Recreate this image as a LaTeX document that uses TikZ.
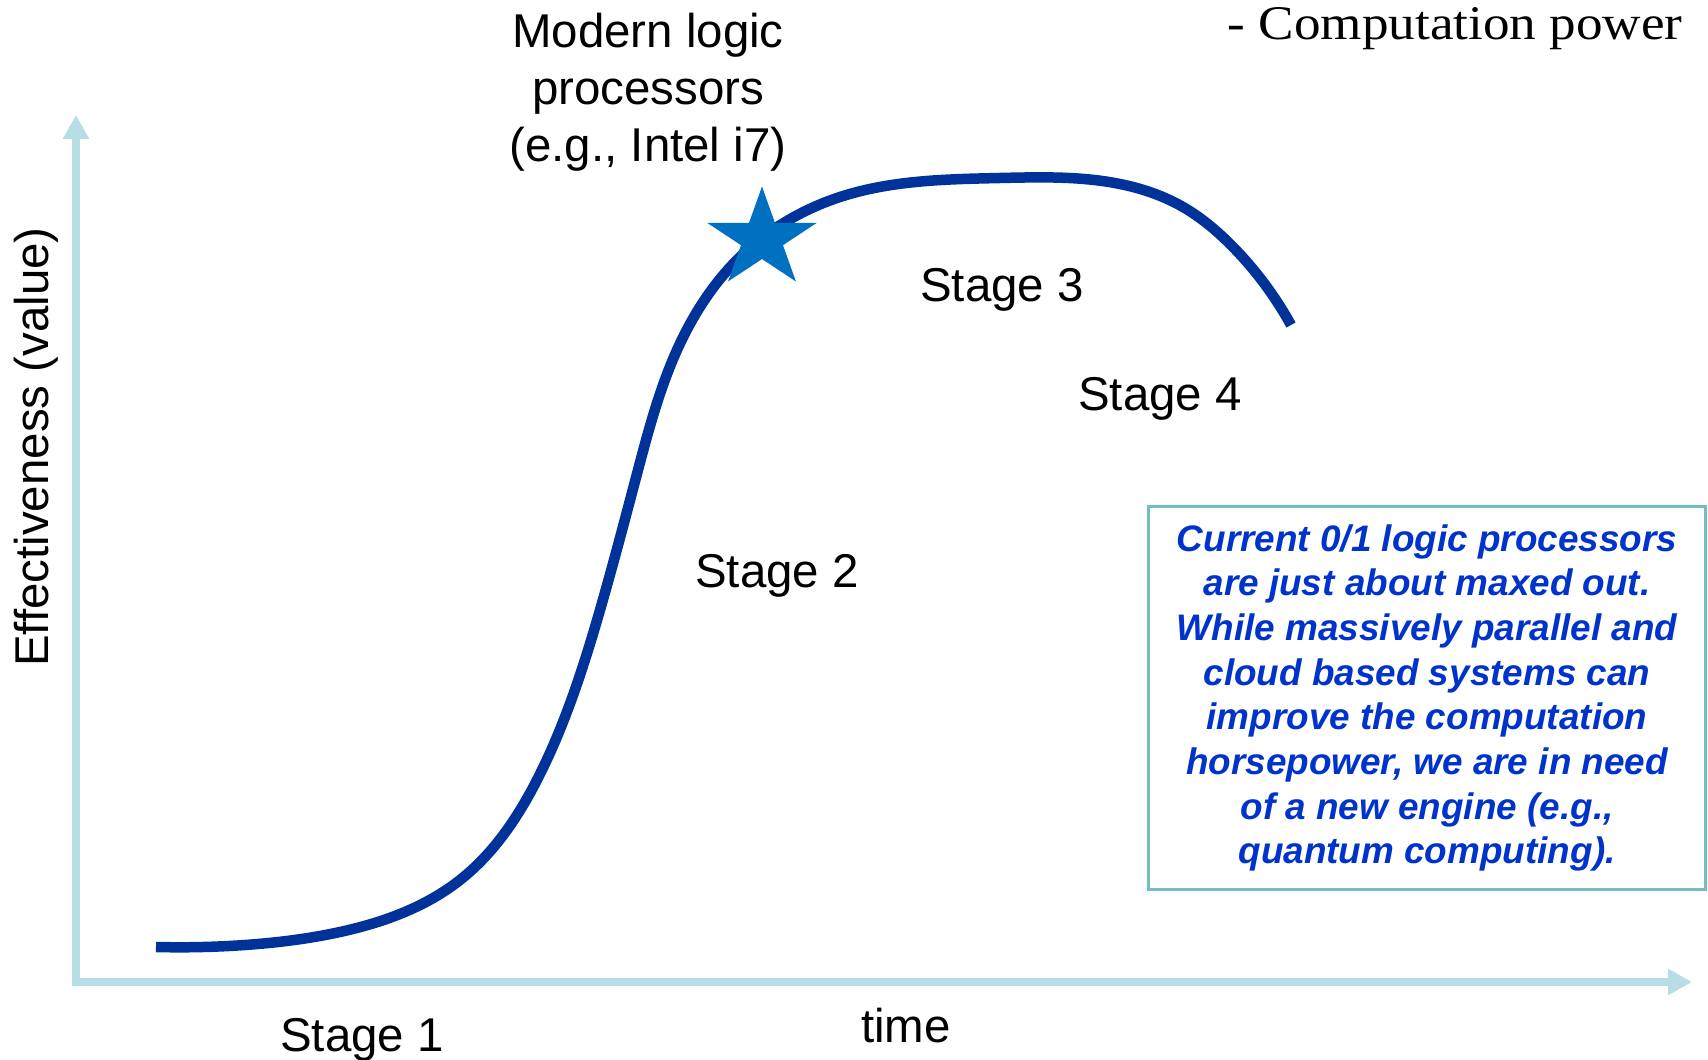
\documentclass[tikz,border=0pt]{standalone}
\usepackage{fontspec}
\setmainfont{Liberation Sans}
\newfontfamily\powerfont{Liberation Serif}
\usetikzlibrary{positioning}
\usetikzlibrary{arrows.meta}
\usetikzlibrary{shapes.geometric}
\usetikzlibrary{hobby}
\definecolor{axisblue}{RGB}{183,222,228}
\definecolor{curveblue}{RGB}{0,51,153}
\definecolor{starblue}{RGB}{0,112,192}
\definecolor{notetext}{RGB}{0,51,204}
\definecolor{noteframe}{RGB}{115,190,195}

\begin{document}
\begin{tikzpicture}[x=0.02cm,y=-0.02cm,
    axisline/.style={draw=axisblue,line width=0.16cm,line join=miter,
      {Triangle[length=0.48cm,width=0.5cm]}-{Triangle[length=0.48cm,width=0.5cm]}},
    label/.style={font=\fontsize{27}{32.4}\selectfont,inner sep=0pt,align=center},
    notebox/.style={draw=noteframe,line width=1.6pt,rectangle,minimum width=11.15cm,minimum height=7.65cm,
      align=center,text=notetext,font=\fontsize{21}{25.4}\selectfont\bfseries\itshape}]
  \useasboundingbox (0,0) rectangle (1708,1060);
  % axes
  \coordinate (origin) at (76,982);
  \coordinate (ytip) at (76,115);
  \coordinate (xtip) at (1692,982);
  \draw[axisline] (ytip) -- (origin) -- (xtip);
  \node[label,rotate=90] (ylab) at (36,447) {Effectiveness (value)};
  \node[label,anchor=base] (xlab) at (906,1042) {time};
  % s-curve
  \draw[curveblue,line width=0.21cm,use Hobby shortcut] (156,947) .. (245,945) .. (340,932) .. (460,880)
    .. (540,774) .. (600,610) .. (638,470) .. (677,350) .. (740,257) .. (840,197)
    .. (1000,178) .. (1133,187) .. (1183,207) .. (1233,247) .. (1291,325);
  \node[star,star points=5,star point ratio=2.618,minimum size=2.1cm,inner sep=0pt,fill=starblue,xscale=1.1] (i7) at (762,239) {};
  % stages
  \node[label,anchor=base] (stage1) at (362,1051) {Stage 1};
  \node[label,anchor=base] (stage2) at (777,588) {Stage 2};
  \node[label,anchor=base] (stage3) at (1002,302) {Stage 3};
  \node[label,anchor=base] (stage4) at (1160,411) {Stage 4};
  \node[label] (modern) at (648,92) {Modern logic\\processors\\(e.g., Intel i7)};
  \node[anchor=base east,inner sep=0pt,xscale=1.1,font=\powerfont\fontsize{27.5}{32}\selectfont] (power) at (1683,40) {- Computation power};
  \node[notebox] (note) at (1427,698) {Current 0/1 logic processors\\are just about maxed out.\\While massively parallel and\\cloud based systems can\\improve the computation\\horsepower, we are in need\\of a new engine (e.g.,\\quantum computing).};
\end{tikzpicture}
\end{document}
